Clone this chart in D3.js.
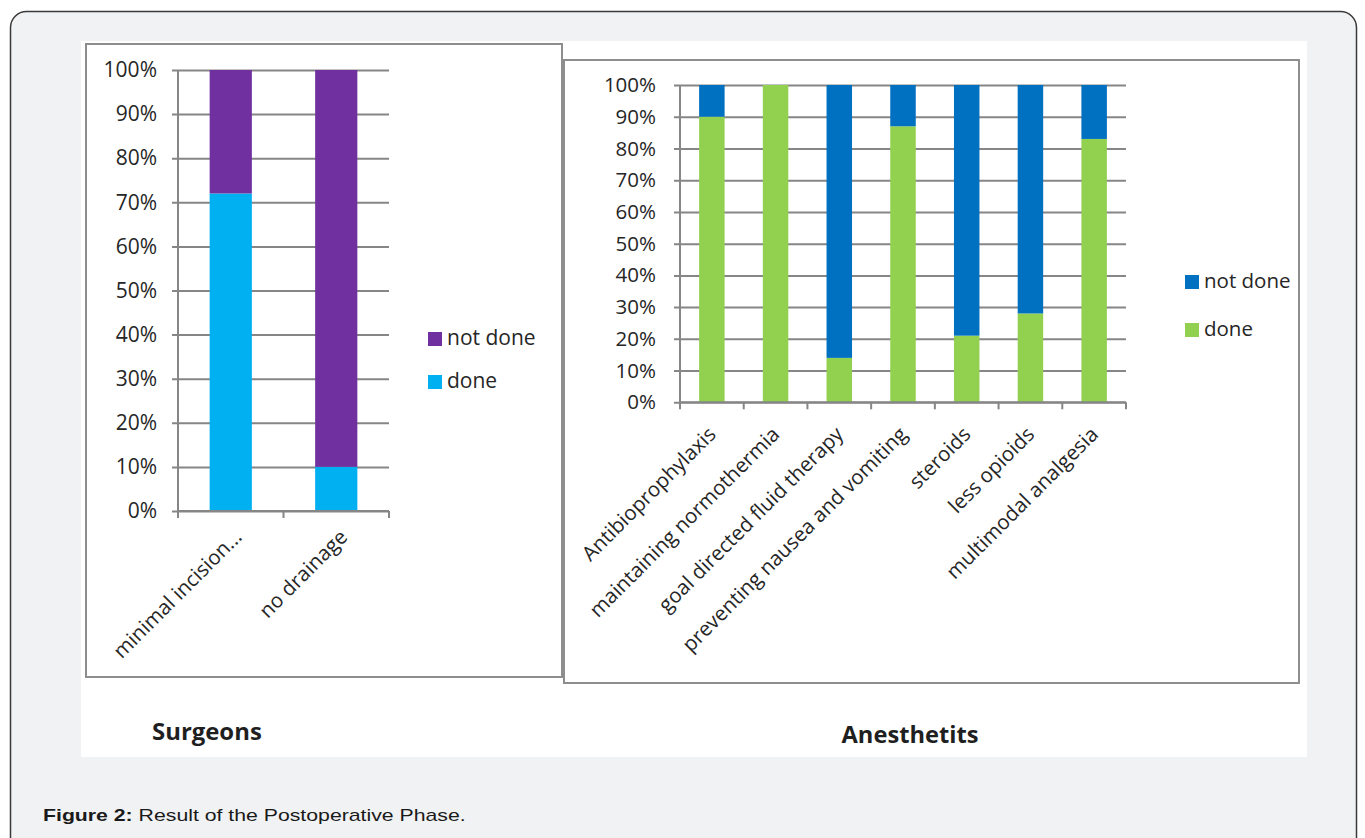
<!DOCTYPE html>
<html>
<head>
<meta charset="utf-8">
<script src="https://cdn.jsdelivr.net/npm/d3@7"></script>
<style>
  html, body { margin: 0; padding: 0; background: #ffffff; }
  svg { display: block; }
  .tick-label { font-family: "Open Sans", sans-serif; fill: #262626; }
</style>
</head>
<body>
<svg id="fig" width="1365" height="838"></svg>
<script>
// ---- data ----
const percentTicks = [0, 10, 20, 30, 40, 50, 60, 70, 80, 90, 100];

const surgeonCategories = ["minimal incision...", "no drainage"];
const surgeonDone = [72, 10];
const surgeonNotDone = [28, 90];

const anesthCategories = [
  "Antibioprophylaxis",
  "maintaining normothermia",
  "goal directed fluid therapy",
  "preventing nausea and vomiting",
  "steroids",
  "less opioids",
  "multimodal analgesia"
];
const anesthDone = [90, 100, 14, 87, 21, 28, 83];
const anesthNotDone = [10, 0, 86, 13, 79, 72, 17];

const seriesNames = ["done", "not done"];

// ---- page frame ----
const svg = d3.select("#fig");
svg.append("rect")
  .attr("x", 10.5).attr("y", 11.5).attr("width", 1346).attr("height", 860)
  .attr("rx", 16).attr("fill", "#f1f2f4").attr("stroke", "#3a3a3a").attr("stroke-width", 1.5);
svg.append("rect")
  .attr("x", 81).attr("y", 41).attr("width", 1226).attr("height", 716)
  .attr("fill", "#ffffff");

// Draws one stacked 100% column panel
function drawPanel(cfg) {
  const g = svg.append("g");
  // outer chart border
  g.append("rect")
    .attr("x", cfg.box[0]).attr("y", cfg.box[1])
    .attr("width", cfg.box[2]).attr("height", cfg.box[3])
    .attr("fill", "#ffffff").attr("stroke", "#8e8e8e").attr("stroke-width", 2);

  const x = d3.scaleBand().domain(cfg.categories)
    .range([cfg.plot.left, cfg.plot.right])
    .paddingInner(0.6).paddingOuter(0.3);
  const y = d3.scaleLinear().domain([0, 100]).range([cfg.plot.bottom, cfg.plot.top]);

  // horizontal gridlines + y ticks
  const yAxis = d3.axisLeft(y).tickValues(percentTicks)
    .tickSize(-(cfg.plot.right - cfg.plot.left)).tickSizeOuter(0)
    .tickPadding(14).tickFormat(d => d + "%");
  const ya = g.append("g").attr("transform", `translate(${cfg.plot.left},0)`).call(yAxis);
  ya.select(".domain").remove();
  ya.selectAll(".tick line").attr("stroke", "#868686").attr("stroke-width", 2)
    .attr("x1", -6);
  ya.selectAll(".tick text").attr("class", "tick-label")
    .attr("font-size", cfg.fontSize).attr("x", -cfg.labelGap);

  // vertical axis line
  g.append("line")
    .attr("x1", cfg.plot.left).attr("x2", cfg.plot.left)
    .attr("y1", cfg.plot.top).attr("y2", cfg.plot.bottom)
    .attr("stroke", "#868686").attr("stroke-width", 2);

  // stacked bars
  const rows = cfg.categories.map((c, i) => ({ cat: c, "done": cfg.done[i], "not done": cfg.notDone[i] }));
  const stacked = d3.stack().keys(seriesNames)(rows);
  g.selectAll("g.series").data(stacked).join("g")
    .attr("fill", d => cfg.colors[d.key])
    .selectAll("rect").data(d => d).join("rect")
    .attr("x", d => x(d.data.cat))
    .attr("width", x.bandwidth())
    .attr("y", d => y(d[1]))
    .attr("height", d => y(d[0]) - y(d[1]));

  // category axis with boundary ticks
  const step = x.step();
  const bounds = d3.range(cfg.categories.length + 1).map(i => cfg.plot.left + i * step);
  g.append("line")
    .attr("x1", cfg.plot.left).attr("x2", cfg.plot.right)
    .attr("y1", cfg.plot.bottom).attr("y2", cfg.plot.bottom)
    .attr("stroke", "#868686").attr("stroke-width", 2);
  g.selectAll("line.cat-tick").data(bounds).join("line")
    .attr("class", "cat-tick")
    .attr("x1", d => d).attr("x2", d => d)
    .attr("y1", cfg.plot.bottom).attr("y2", cfg.plot.bottom + 7)
    .attr("stroke", "#868686").attr("stroke-width", 2);

  // rotated category labels
  g.selectAll("text.cat").data(cfg.categories).join("text")
    .attr("class", "tick-label cat")
    .attr("font-size", cfg.catFontSize)
    .attr("text-anchor", "end")
    .attr("dy", "0.71em")
    .attr("transform", d => `translate(${x(d) + x.bandwidth() / 2 + cfg.catOffset[0]},${cfg.plot.bottom + cfg.catOffset[1]}) rotate(-45)`)
    .text(d => d);

  // legend
  const legendOrder = ["not done", "done"];
  const lg = g.selectAll("g.legend").data(legendOrder).join("g")
    .attr("transform", (d, i) => `translate(${cfg.legend[0]},${cfg.legend[1] + i * cfg.legend[2]})`);
  lg.append("rect").attr("x", 0).attr("y", -13).attr("width", 14).attr("height", 14)
    .attr("fill", d => cfg.colors[d]);
  lg.append("text").attr("class", "tick-label").attr("x", 19).attr("y", 0)
    .attr("font-size", cfg.fontSize).text(d => d);
}

drawPanel({
  box: [86, 44, 476, 633],
  plot: { left: 178, right: 389, top: 70, bottom: 511 },
  categories: surgeonCategories,
  done: surgeonDone,
  notDone: surgeonNotDone,
  colors: { "done": "#00b0f0", "not done": "#7030a0" },
  fontSize: 21,
  catFontSize: 20.5,
  labelGap: 21,
  catOffset: [2, 17],
  legend: [428, 345, 43]
});

drawPanel({
  box: [564, 60, 735, 623],
  plot: { left: 680, right: 1126, top: 85, bottom: 402.3 },
  categories: anesthCategories,
  done: anesthDone,
  notDone: anesthNotDone,
  colors: { "done": "#92d050", "not done": "#0070c0" },
  fontSize: 20.5,
  catFontSize: 20.5,
  labelGap: 24,
  catOffset: [-5, 23],
  legend: [1185, 288, 48]
});

// panel titles
svg.append("text").attr("transform", "translate(152,740) scale(1.04,1)")
  .attr("font-family", "Open Sans, sans-serif").attr("font-weight", 700)
  .attr("font-size", 23).attr("fill", "#1f1f1f").text("Surgeons");
svg.append("text").attr("transform", "translate(910,743) scale(1.03,1)").attr("text-anchor", "middle")
  .attr("font-family", "Open Sans, sans-serif").attr("font-weight", 700)
  .attr("font-size", 23).attr("fill", "#1f1f1f").text("Anesthetits");

// figure caption
const cap = svg.append("text").attr("transform", "translate(43,821) scale(1.25,1)")
  .attr("font-family", "Liberation Sans, Arial, sans-serif")
  .attr("font-size", 17).attr("fill", "#1a1a1a");
cap.append("tspan").attr("font-weight", 700).text("Figure 2:");
cap.append("tspan").text(" Result of the Postoperative Phase.");
</script>
</body>
</html>
